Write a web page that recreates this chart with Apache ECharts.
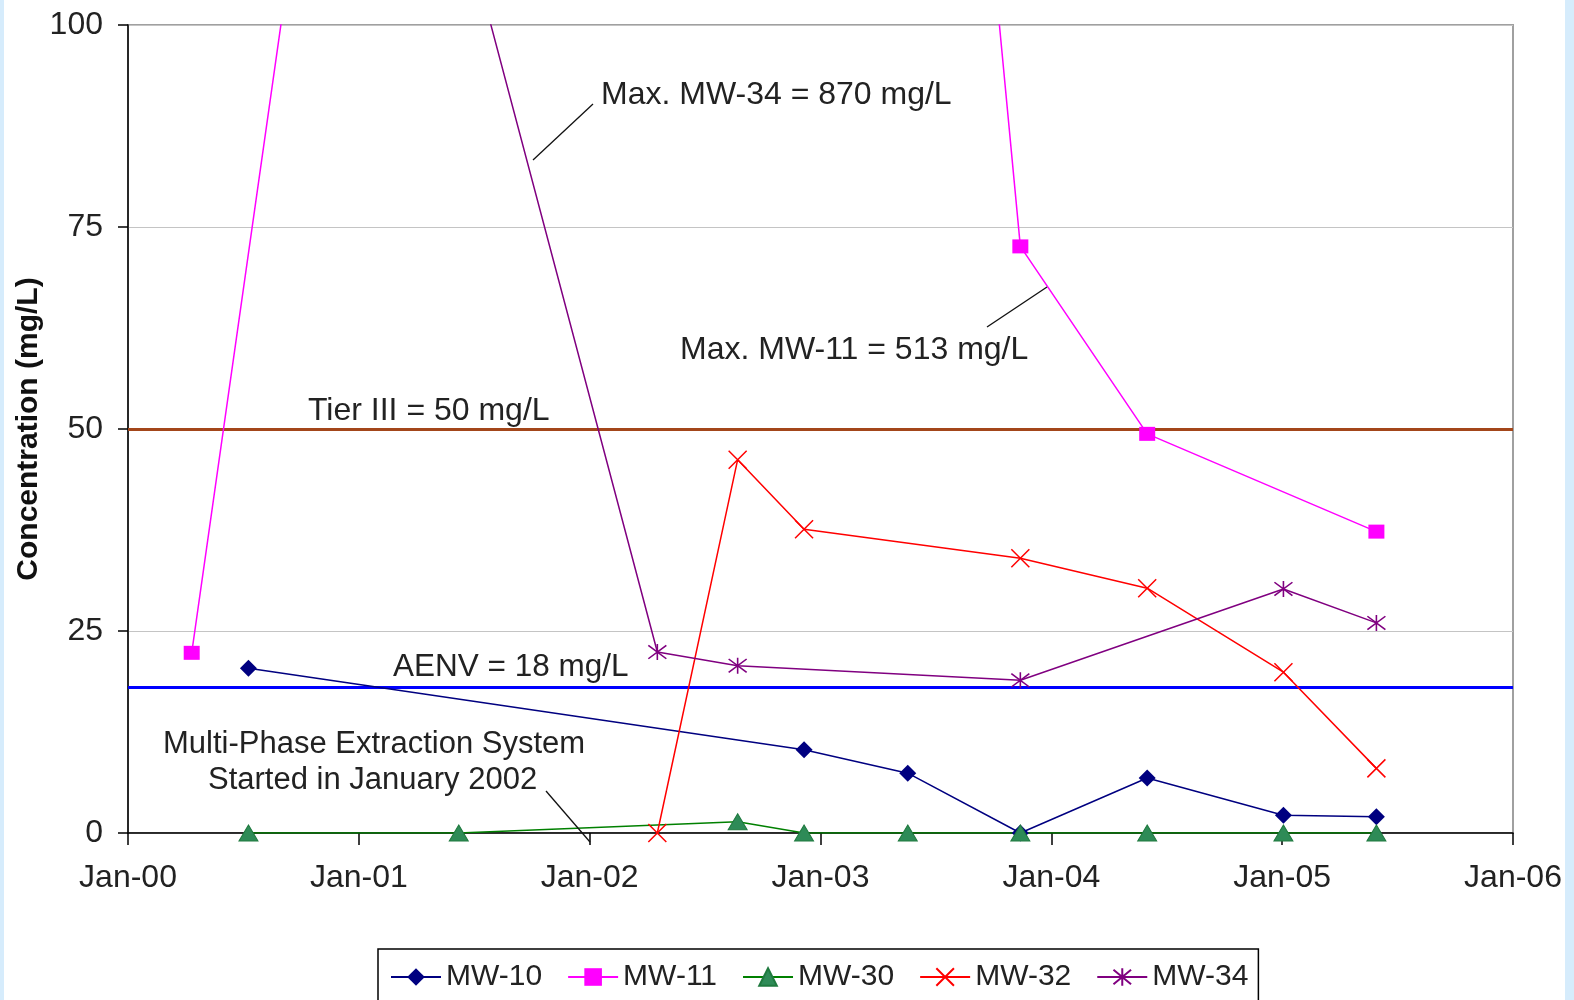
<!DOCTYPE html>
<html>
<head>
<meta charset="utf-8">
<script src="https://cdn.jsdelivr.net/npm/echarts@6/dist/echarts.min.js"></script>
<style>
html,body{margin:0;padding:0;background:#fff;}
#c{width:1574px;height:1000px;}
</style>
</head>
<body>
<div id="c"></div>
<script>
// ---- data ----
const xTickLabels = ['Jan-00','Jan-01','Jan-02','Jan-03','Jan-04','Jan-05','Jan-06'];
const yTicks = [0, 25, 50, 75, 100];

const mw10Dates  = ['2000-07-10','2002-12-06','2003-05-19','2003-11-13','2004-06-01','2005-01-03','2005-05-30'];
const mw10Values = [20.4, 10.3, 7.4, 0, 6.8, 2.2, 2.0];

const mw11Dates  = ['2000-04-11','2001-06-08','2002-04-18','2003-05-19','2003-11-13','2004-06-01','2005-05-30'];
const mw11Values = [22.3, 255, 513, 220, 72.6, 49.4, 37.3];

const mw30Dates  = ['2000-07-10','2001-06-08','2002-08-23','2002-12-06','2003-05-19','2003-11-13','2004-06-01','2005-01-03','2005-05-30'];
const mw30Values = [0, 0, 1.4, 0, 0, 0, 0, 0, 0];

const mw32Dates  = ['2002-04-18','2002-08-23','2002-12-06','2003-11-13','2004-06-01','2005-01-03','2005-05-30'];
const mw32Values = [0, 46.2, 37.6, 34.0, 30.3, 19.9, 8.0];

const mw34Dates  = ['2000-07-10','2001-06-08','2002-04-18','2002-08-23','2003-11-13','2005-01-03','2005-05-30'];
const mw34Values = [870, 115, 22.4, 20.7, 18.9, 30.2, 26.0];

const tierIII = 50;
const aenv = 18;

// ---- helpers ----
function yearFrac(s){
  const p = s.split('-').map(Number);
  const st = Date.UTC(p[0],0,1), en = Date.UTC(p[0]+1,0,1);
  return p[0] + (Date.UTC(p[0],p[1]-1,p[2]) - st) / (en - st);
}
function pairs(d, v){ return d.map((s,i)=>[yearFrac(s), v[i]]); }

const FONT = 'Liberation Sans, Arial, sans-serif';
const TXT = '#222';

const chart = echarts.init(document.getElementById('c'), null, {renderer:'canvas'});

function txt(x, y, s, fs){
  return {type:'text', x:x, y:y, z:100,
    style:{text:s, fontSize:fs||32, fontFamily:FONT, fill:TXT, align:'left', verticalAlign:'middle', textAlign:'left', textVerticalAlign:'middle'}};
}
function ln(x1,y1,x2,y2){
  return {type:'line', z:100, shape:{x1:x1,y1:y1,x2:x2,y2:y2}, style:{stroke:'#111', lineWidth:1.3}};
}

const xPath = 'path://M0,0L10,10M10,0L0,10';
const starPath = 'path://M0,0L10,10M10,0L0,10M5,-1L5,11';

chart.setOption({
  backgroundColor:'#fff',
  animation:false,
  textStyle:{fontFamily:FONT},
  grid:{left:128, right:61, top:25, bottom:167, show:true, borderColor:'#a0a0a0', borderWidth:2, backgroundColor:'transparent'},
  xAxis:{
    type:'value', min:2000, max:2006, interval:1,
    axisLine:{show:true, onZero:false, lineStyle:{color:'#000', width:1.5}},
    axisTick:{show:true, length:12, lineStyle:{color:'#000', width:1.5}},
    splitLine:{show:false},
    axisLabel:{margin:29, fontSize:32, color:TXT, fontFamily:FONT,
      formatter:function(v){ return xTickLabels[Math.round(v-2000)]; }}
  },
  yAxis:{
    type:'value', min:yTicks[0], max:yTicks[yTicks.length-1], interval:25,
    name:'Concentration (mg/L)', nameLocation:'middle', nameGap:84, nameRotate:90,
    nameMoveOverlap:false,
    nameTextStyle:{fontSize:30, fontWeight:'bold', color:'#111', fontFamily:FONT},
    axisLine:{show:true, lineStyle:{color:'#000', width:1.5}},
    axisTick:{show:true, length:10, lineStyle:{color:'#000', width:1.5}},
    splitLine:{show:true, lineStyle:{color:'#c4c4c4', width:1.2}},
    axisLabel:{margin:25, fontSize:32, color:TXT, fontFamily:FONT}
  },
  legend:{
    left:378, top:949, orient:'horizontal',
    padding:[13,10,40,12], itemGap:25, itemWidth:50, itemHeight:22,
    borderColor:'#000', borderWidth:1.5, backgroundColor:'#fff',
    textStyle:{fontSize:30, color:TXT, fontFamily:FONT},
    data:['MW-10','MW-11','MW-30','MW-32','MW-34']
  },
  series:[
    {name:'MW-10', type:'line', data:pairs(mw10Dates, mw10Values), symbol:'diamond', symbolSize:17,
     lineStyle:{color:'#000080', width:1.5}, itemStyle:{color:'#000080'}, z:5,
     markLine:{silent:true, symbol:'none', label:{show:false}, z:3,
       data:[{yAxis:tierIII, lineStyle:{color:'#a3461a', width:3, type:'solid'}},
             {yAxis:aenv, lineStyle:{color:'#0000ff', width:3, type:'solid'}}]}},
    {name:'MW-11', type:'line', data:pairs(mw11Dates, mw11Values), symbol:'rect', symbolSize:[16,14],
     lineStyle:{color:'#ff00ff', width:1.5}, itemStyle:{color:'#ff00ff'}, z:5},
    {name:'MW-30', type:'line', data:pairs(mw30Dates, mw30Values), symbol:'triangle', symbolSize:[19,16],
     lineStyle:{color:'#008000', width:1.5}, itemStyle:{color:'#2e8b57', borderColor:'#1f7a3f', borderWidth:1}, z:5},
    {name:'MW-32', type:'line', data:pairs(mw32Dates, mw32Values), symbol:xPath, symbolSize:18,
     lineStyle:{color:'#ff0000', width:1.5}, itemStyle:{color:'#ff0000', borderColor:'#ff0000', borderWidth:1.5}, z:5},
    {name:'MW-34', type:'line', data:pairs(mw34Dates, mw34Values), symbol:starPath, symbolSize:[18,16],
     lineStyle:{color:'#800080', width:1.5}, itemStyle:{color:'#800080', borderColor:'#800080', borderWidth:1.5}, z:5}
  ],
  graphic:[
    {type:'rect', shape:{x:0,y:0,width:4,height:1000}, style:{fill:'#d6ecfc'}, z:-10},
    {type:'rect', shape:{x:1565,y:0,width:9,height:1000}, style:{fill:'#d6ecfc'}, z:-10},
    txt(601, 95, 'Max. MW-34 = 870 mg/L'),
    ln(593,104,533,160),
    txt(680, 350, 'Max. MW-11 = 513 mg/L'),
    ln(987,327,1047,287),
    txt(308, 411, 'Tier III = 50 mg/L'),
    txt(393, 667, 'AENV = 18 mg/L', 31.5),
    txt(163, 744, 'Multi-Phase Extraction System', 31),
    txt(208, 780, 'Started in January 2002', 31),
    ln(546,791,590,842)
  ]
});
</script>
</body>
</html>
